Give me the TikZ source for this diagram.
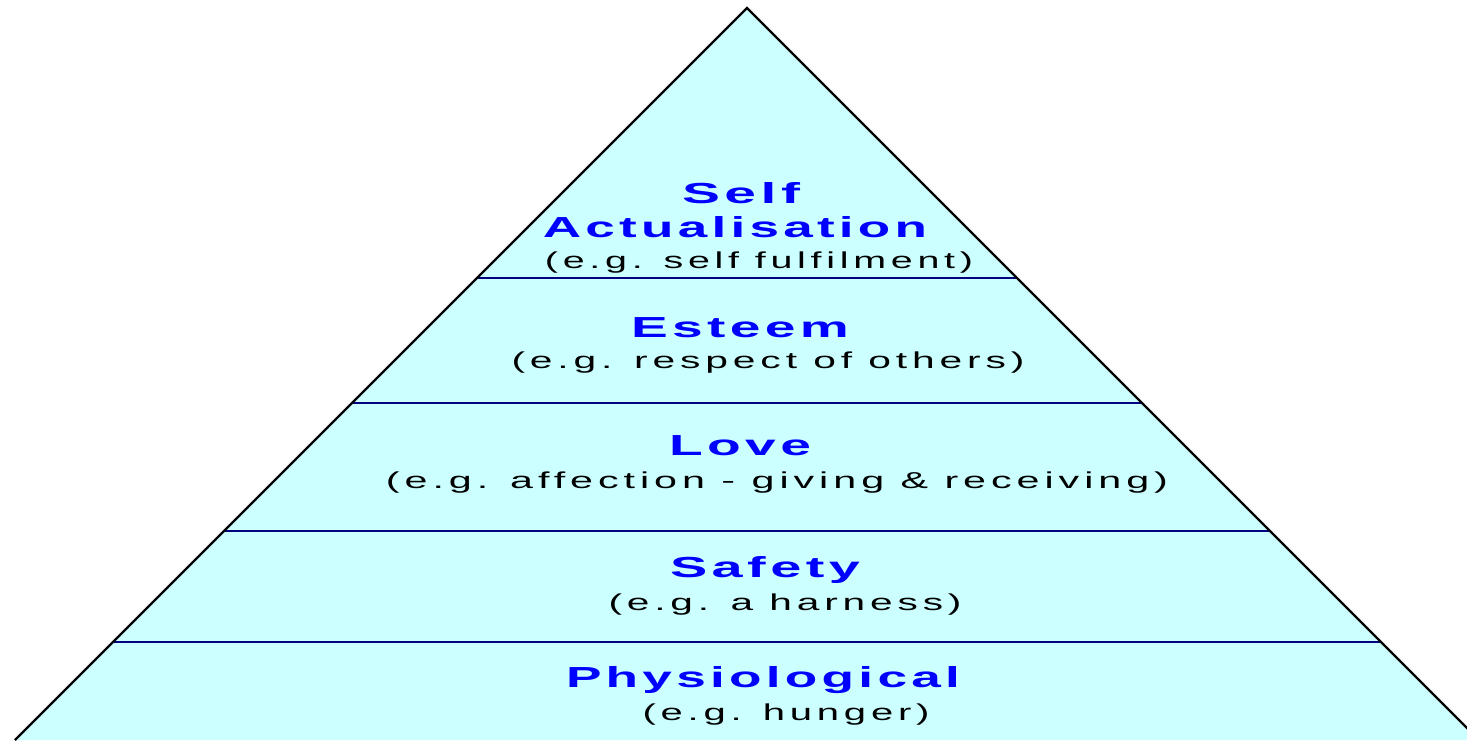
\documentclass[tikz,border=0pt]{standalone}
\usepackage{fontspec}
\usepackage{graphicx}
\newfontfamily\headfont[LetterSpace=8]{Liberation Sans Bold}
\newfontfamily\labfont[LetterSpace=12]{Liberation Sans}
\definecolor{pyrfill}{HTML}{CCFFFF}
\definecolor{tierline}{HTML}{000080}
\definecolor{titleblue}{HTML}{0000FF}
\newcommand{\fitw}[2]{\resizebox{#1}{\height}{#2}}
\newcommand{\hd}[2]{\fitw{#1}{\headfont\fontsize{29}{30}\selectfont #2}}
\newcommand{\lb}[2]{\fitw{#1}{\labfont\fontsize{23}{25}\selectfont #2}}
\tikzset{
  title/.style={anchor=base, inner sep=0pt, text=titleblue},
  example/.style={anchor=base, inner sep=0pt, text=black},
  tier/.style={draw=tierline, line width=2.2pt},
  outline/.style={draw=black, line width=2.2pt}
}
\begin{document}
\begin{tikzpicture}[x=1pt,y=-1pt]
\useasboundingbox (0,0) rectangle (1467,740);
\clip (0,0) rectangle (1467,740);
% pyramid
\coordinate (apex) at (747,8);
\coordinate (bl) at (15,740);
\coordinate (br) at (1479,740);
\fill[pyrfill] (apex) -- (bl) -- (br) -- cycle;
% tier lines
\coordinate (l1) at (477,278);  \coordinate (r1) at (1017,278);
\coordinate (l2) at (352,403);  \coordinate (r2) at (1142,403);
\coordinate (l3) at (224,531);  \coordinate (r3) at (1270,531);
\coordinate (l4) at (113,642);  \coordinate (r4) at (1381,642);
\draw[tier] (l1) -- (r1);
\draw[tier] (l2) -- (r2);
\draw[tier] (l3) -- (r3);
\draw[tier] (l4) -- (r4);
\draw[outline] (bl) -- (apex) -- (br);
% texts
\node[title] (self) at (741,203) {\hd{118pt}{Self}};
\node[title] (actual) at (735,237) {\hd{384pt}{Actualisation}};
\node[example] (selfex) at (759,268) {\lb{428pt}{(e.g. self fulfilment)}};
\node[title] (esteem) at (740,337) {\hd{218pt}{Esteem}};
\node[example] (esteemex) at (768,368) {\lb{513pt}{(e.g. respect of others)}};
\node[title] (love) at (740,455) {\hd{142pt}{Love}};
\node[example] (loveex) at (777,488) {\lb{782pt}{(e.g. affection - giving \& receiving)}};
\node[title] (safety) at (765,577) {\hd{190pt}{Safety}};
\node[example] (safetyex) at (785,610) {\lb{353pt}{(e.g. a harness)}};
\node[title] (phys) at (763,687) {\hd{394pt}{Physiological}};
\node[example] (physex) at (786,720) {\lb{287pt}{(e.g. hunger)}};
\end{tikzpicture}
\end{document}
